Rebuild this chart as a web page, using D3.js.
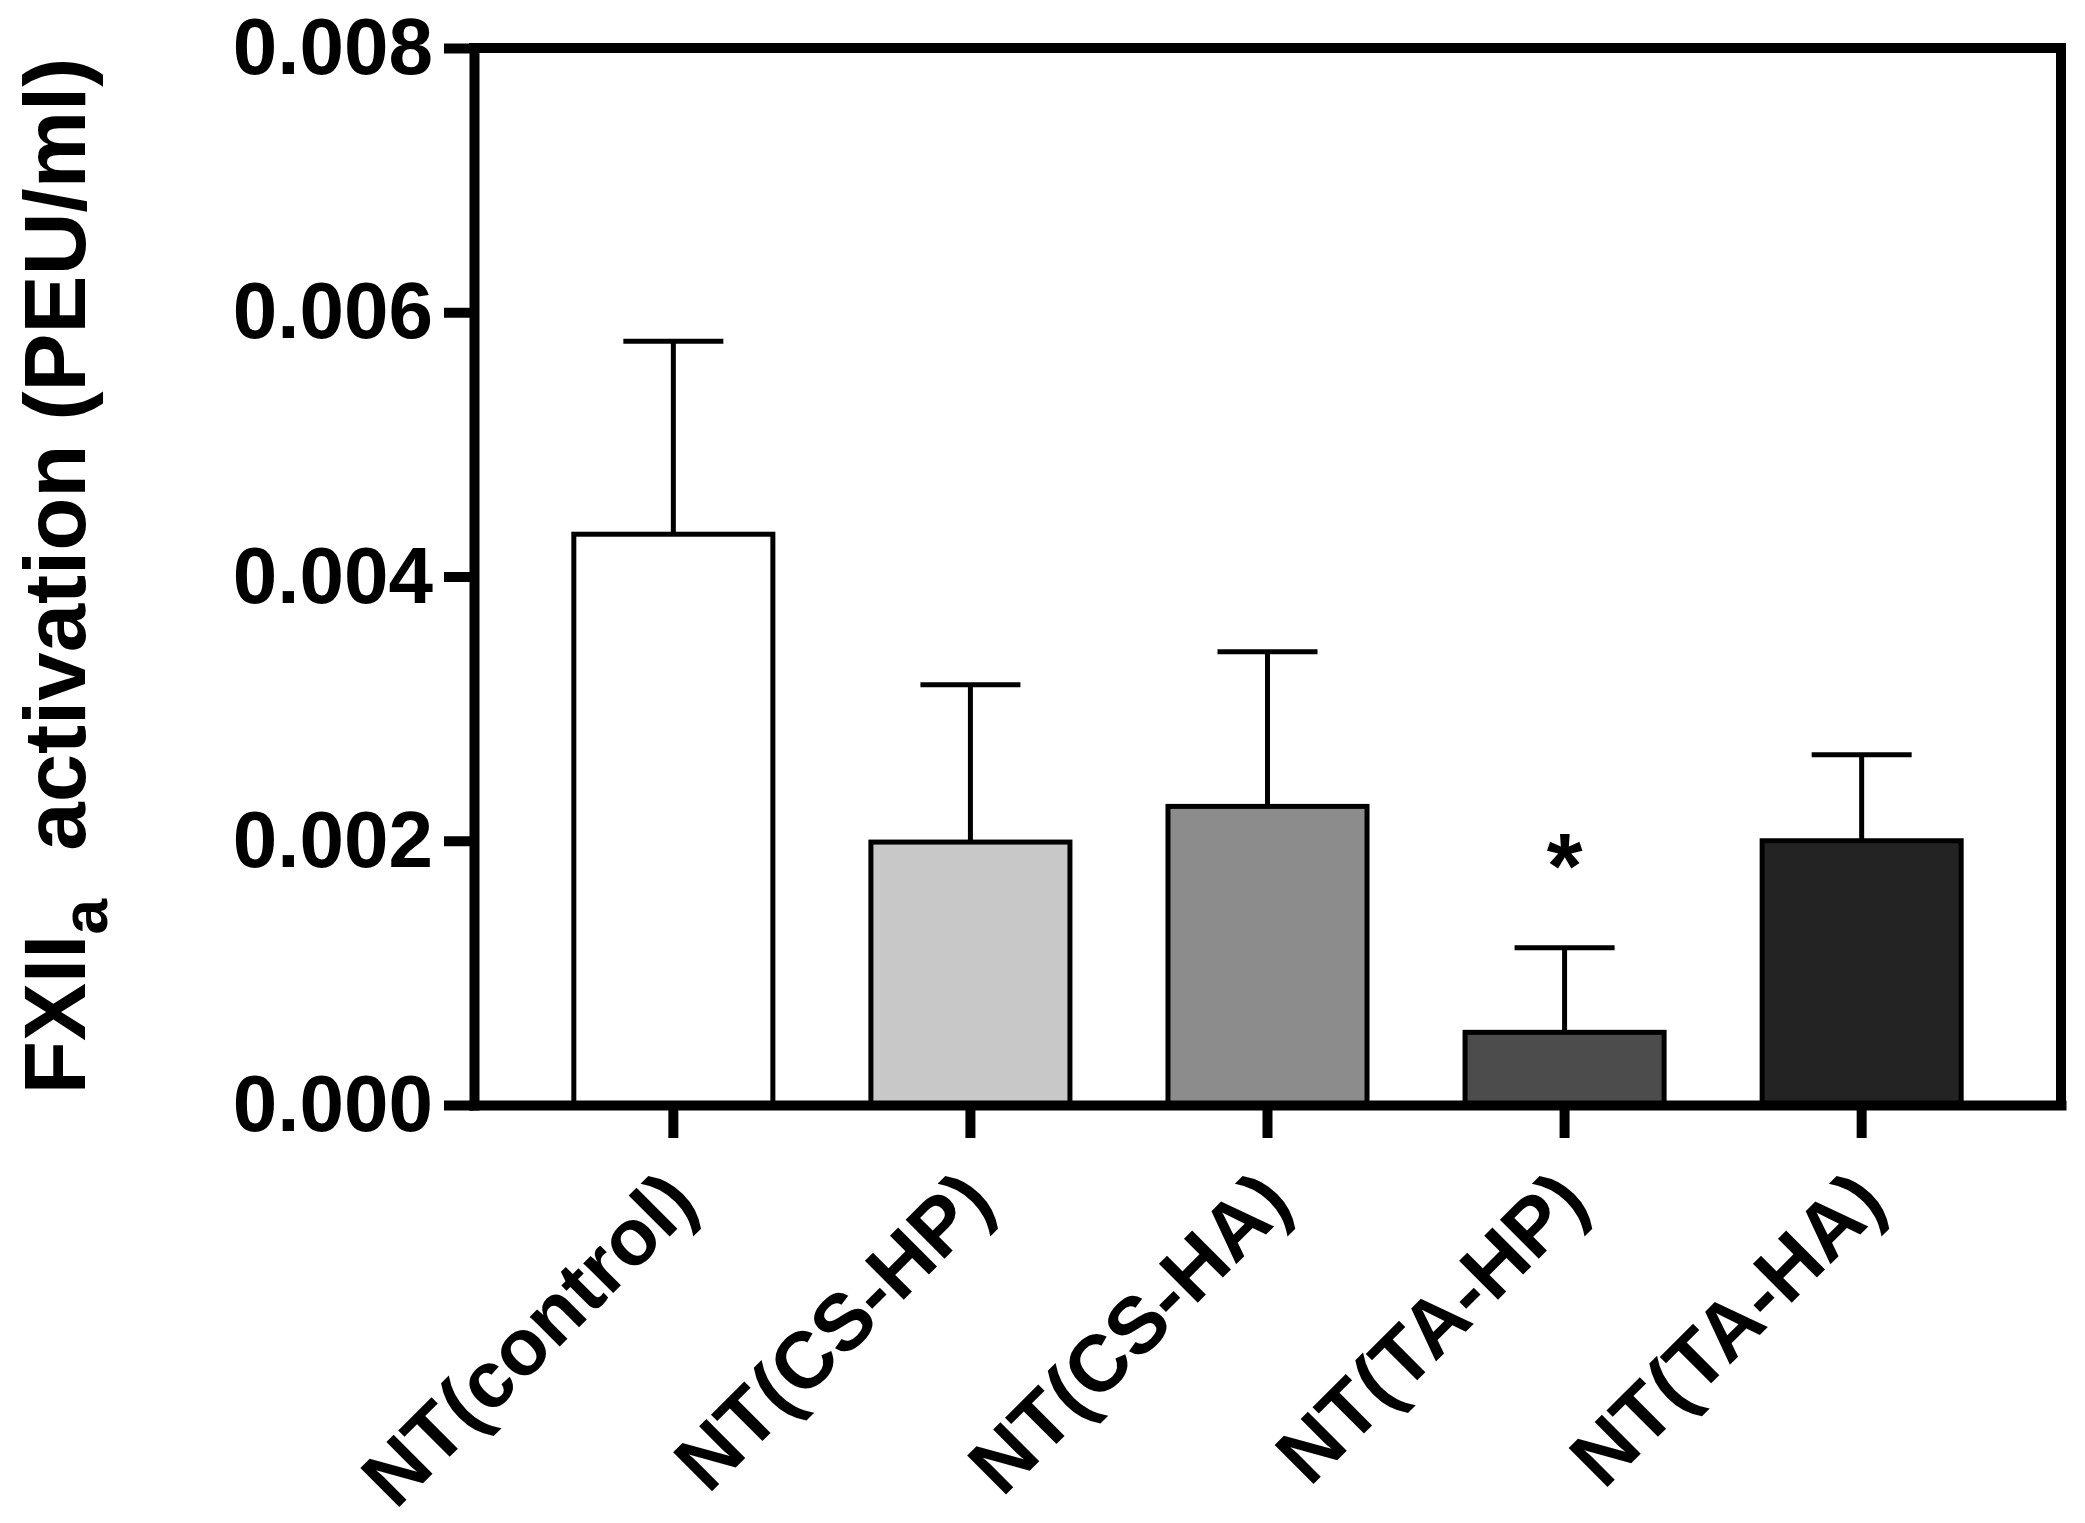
<!DOCTYPE html>
<html>
<head>
<meta charset="utf-8">
<script src="https://cdn.jsdelivr.net/npm/d3@7"></script>
<style>
  html, body { margin: 0; padding: 0; background: #fff; }
  text { font-family: Arial, "Liberation Sans", sans-serif; font-weight: bold; fill: #000; }
</style>
</head>
<body>
<script>
// data
var groups = ["NT(control)", "NT(CS-HP)", "NT(CS-HA)", "NT(TA-HP)", "NT(TA-HA)"];
var means = [0.00432, 0.00199, 0.00226, 0.00055, 0.00200];
var errs = [0.00146, 0.00119, 0.00117, 0.00064, 0.00065];
var stars = ["", "", "", "*", ""];
var fills = ["#ffffff", "#c8c8c8", "#8c8c8c", "#4c4c4c", "#232323"];
var yTicks = [0, 0.002, 0.004, 0.006, 0.008];

(function() {
var width = 2085, height = 1523;
var plotLeft = 474, plotRight = 2061, plotTop = 48, plotBottom = 1105;

var svg = d3.select("body").append("svg")
  .attr("width", width)
  .attr("height", height)
  .style("background", "#fff");

var y = d3.scaleLinear().domain([0, 0.008]).range([plotBottom, plotTop]);
var x = d3.scaleBand().domain(groups).range([plotLeft, plotRight])
  .paddingInner(0.33).paddingOuter(0.336);

var rows = groups.map(function(g, i) {
  return {name: g, mean: means[i], err: errs[i], star: stars[i], fill: fills[i]};
});

// bars
svg.selectAll("rect.bar")
  .data(rows)
  .enter().append("rect")
  .attr("class", "bar")
  .attr("x", function(d) { return x(d.name); })
  .attr("y", function(d) { return y(d.mean); })
  .attr("width", x.bandwidth())
  .attr("height", function(d) { return y(0) - y(d.mean); })
  .style("fill", function(d) { return d.fill; })
  .style("stroke", "#000")
  .style("stroke-width", 5);

// error bars (upper only)
var cx = function(d) { return x(d.name) + x.bandwidth() / 2; };
var capW = 100;
svg.selectAll("line.stem")
  .data(rows)
  .enter().append("line")
  .attr("x1", cx).attr("x2", cx)
  .attr("y1", function(d) { return y(d.mean); })
  .attr("y2", function(d) { return y(d.mean + d.err); })
  .style("stroke", "#000").style("stroke-width", 5);
svg.selectAll("line.cap")
  .data(rows)
  .enter().append("line")
  .attr("x1", function(d) { return cx(d) - capW / 2; })
  .attr("x2", function(d) { return cx(d) + capW / 2; })
  .attr("y1", function(d) { return y(d.mean + d.err); })
  .attr("y2", function(d) { return y(d.mean + d.err); })
  .style("stroke", "#000").style("stroke-width", 5);

// significance
svg.selectAll("text.star")
  .data(rows.filter(function(d) { return d.star; }))
  .enter().append("text")
  .attr("x", cx)
  .attr("y", function(d) { return y(d.mean + d.err) - 50; })
  .attr("text-anchor", "middle")
  .style("font-size", "92px")
  .text(function(d) { return d.star; });

// axes
var yAxis = svg.append("g")
  .attr("transform", "translate(" + plotLeft + ",0)")
  .call(d3.axisLeft(y).tickValues(yTicks).tickSize(30).tickSizeOuter(0)
    .tickPadding(11).tickFormat(d3.format(".3f")));

var xAxis = svg.append("g")
  .attr("transform", "translate(0," + plotBottom + ")")
  .call(d3.axisBottom(x).tickSize(33).tickSizeOuter(0));

[yAxis, xAxis].forEach(function(g) {
  g.select(".domain").style("stroke", "#000").style("stroke-width", 10)
    .style("stroke-linecap", "square");
  g.selectAll(".tick line").style("stroke", "#000").style("stroke-width", 10);
  g.selectAll("text").attr("fill", "#000")
    .style("font-size", "80px").style("font-weight", "bold")
    .style("font-family", "Arial, 'Liberation Sans', sans-serif");
});

xAxis.selectAll(".tick text")
  .attr("x", 0).attr("y", 0).attr("dy", null)
  .attr("text-anchor", "end")
  .attr("transform", "translate(27,101) rotate(-45)");

// frame top and right
svg.append("line")
  .attr("x1", plotLeft).attr("x2", plotRight)
  .attr("y1", y(0.008)).attr("y2", y(0.008))
  .style("stroke", "#000").style("stroke-width", 10).style("stroke-linecap", "square");
svg.append("line")
  .attr("x1", plotRight).attr("x2", plotRight)
  .attr("y1", y(0.008)).attr("y2", y(0))
  .style("stroke", "#000").style("stroke-width", 10).style("stroke-linecap", "square");

// y title
var title = svg.append("text")
  .attr("transform", "translate(85,576) rotate(-90)")
  .attr("text-anchor", "middle")
  .style("font-size", "87px");
title.append("tspan").text("FXII");
title.append("tspan").attr("dy", 22).style("font-size", "64px").text("a");
title.append("tspan").attr("dy", -22).text("\u00a0\u00a0activation (PEU/ml)");
})();
</script>
</body>
</html>
